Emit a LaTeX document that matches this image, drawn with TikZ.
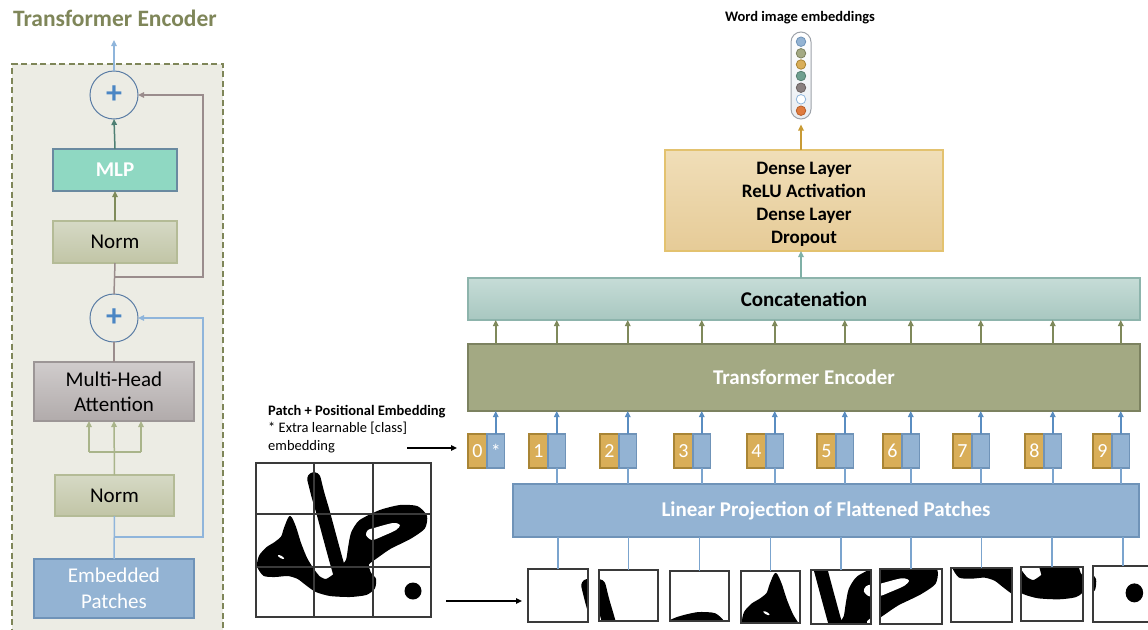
\documentclass[tikz,border=0pt]{standalone}
\usepackage{fontspec}
\setmainfont{Carlito}
\usetikzlibrary{arrows.meta,calc}

\definecolor{olv}{HTML}{7F8659}
\definecolor{panelbg}{HTML}{ECECE4}
\definecolor{circd}{HTML}{5B7DA5}
\definecolor{plusc}{HTML}{4B86C4}
\definecolor{mlpfill}{HTML}{8FD8C2}
\definecolor{mlpdraw}{HTML}{6A8AA0}
\definecolor{normtop}{HTML}{D6D9C5}
\definecolor{normbot}{HTML}{C1C5A6}
\definecolor{normdraw}{HTML}{B4BB96}
\definecolor{mhatop}{HTML}{D0CCCC}
\definecolor{mhabot}{HTML}{B1ABAB}
\definecolor{mhadraw}{HTML}{9C9696}
\definecolor{embfill}{HTML}{93B3D3}
\definecolor{embdraw}{HTML}{6F93B8}
\definecolor{mauve}{HTML}{9A8C8C}
\definecolor{lblue}{HTML}{8FB5DB}
\definecolor{lolive}{HTML}{A9B48A}
\definecolor{olvarr}{HTML}{7F8B5A}
\definecolor{tealarr}{HTML}{4E7F73}
\definecolor{tefill}{HTML}{A3A983}
\definecolor{tedraw}{HTML}{7C8260}
\definecolor{cctop}{HTML}{C6DCD7}
\definecolor{ccbot}{HTML}{A8C7C0}
\definecolor{ccdraw}{HTML}{8DB4AC}
\definecolor{dntop}{HTML}{F0DEB8}
\definecolor{dnbot}{HTML}{E6CB97}
\definecolor{dndraw}{HTML}{E3C26F}
\definecolor{goldfill}{HTML}{D9AE58}
\definecolor{golddraw}{HTML}{A98535}
\definecolor{arrblue}{HTML}{5A8DC1}
\definecolor{ccarr}{HTML}{7F895B}
\definecolor{dnarr}{HTML}{7FB0A6}
\definecolor{caparr}{HTML}{C89B35}
\definecolor{capfill}{HTML}{E9EDF2}
\definecolor{capdraw}{HTML}{9EA3AA}
\definecolor{gridc}{HTML}{3A3A3A}

\tikzset{
  arr/.style={-{Triangle[length=6pt,width=5.5pt]}},
  conn/.style={line width=1.5pt},
  box/.style={draw, rectangle, inner sep=0pt, outer sep=0pt, align=center, line width=1.2pt},
  big/.style={font=\fontsize{21}{25}\selectfont},
  bigb/.style={font=\fontsize{21}{25}\selectfont\bfseries},
  normbox/.style={box, top color=normtop, bottom color=normbot, draw=normdraw, big},
  pluscirc/.style={draw=circd, circle, minimum size=48pt, inner sep=0pt, outer sep=0pt, line width=1pt,
    fill=panelbg, text=plusc, font=\fontsize{32}{32}\selectfont\bfseries},
  goldtok/.style={box, fill=goldfill, draw=golddraw, minimum width=19pt, minimum height=34pt, text=white,
    font=\fontsize{20}{20}\selectfont},
  bluetok/.style={box, fill=embfill, draw=embdraw, minimum width=17.5pt, minimum height=34pt, text=white,
    font=\fontsize{20}{20}\selectfont},
  patchbox/.style={draw=gridc, rectangle, inner sep=0pt, outer sep=0pt, line width=1.5pt},
  dot/.style={circle, inner sep=0pt, minimum size=9.5pt, line width=0.8pt}
}

\newcommand\hwriting{%
\filldraw[black, line width=2pt, line join=round] plot[smooth cycle, tension=0.4] coordinates {(290,517) (295,527) (300,543) (306,558) (312,568) (319,577) (326,580) (334,575) (341,568) (347,560) (349,548) (352,533) (360,521) (380,511) (400,506) (417,507) (426,516) (424,528) (410,538) (390,548) (377,557) (368,564) (370,573) (375,579) (374,588) (366,594) (350,596) (330,595) (316,591) (306,584) (298,578) (288,575) (275,576) (264,575) (258,566) (260,556) (267,548) (275,543) (282,537) (285,528)};
\draw[black, line width=13.5pt, line cap=round] plot[smooth, tension=0.4] coordinates {(314,479) (318,495) (323,512) (330,538) (336,560) (340,574)};
\fill[white] plot[smooth cycle, tension=0.5] coordinates {(366,535) (368,530) (374,528) (393,523) (400,525) (396,530) (383,536) (372,540)};
\fill[white, rotate around={-30:(281,557)}] (281,557) ellipse (3.5 and 1.2);
\fill[black] (413,591) circle (8.5);}

\newcommand\mkpatch[9]{%
\begin{scope}
\clip (#2,#3) rectangle ++(#4,#5);
\begin{scope}[shift={(#2,#3)},xscale=#4/#8,yscale=#5/#9,shift={(-#6,-#7)}]
\hwriting
\end{scope}
\end{scope}
\node[patchbox, minimum width=#4, minimum height=#5, anchor=north west] (#1) at (#2,#3) {};}

\begin{document}
\begin{tikzpicture}[x=1pt,y=-1pt]
\useasboundingbox (0,0) rectangle (1148,629);
\clip (0,0) rectangle (1148,629);
\fill[white] (0,0) rectangle (1148,629);

% ---------------- left panel ----------------
\node[font=\fontsize{23.5}{28}\selectfont\bfseries, text=olv] (ttl) at (115,18) {Transformer Encoder};
\node[draw=olv, fill=panelbg, dash pattern=on 6pt off 3.5pt, line width=2pt, minimum width=211pt,
  minimum height=600pt, anchor=north west, inner sep=0pt] (panel) at (11,63) {};

\node[pluscirc] (c1) at (114,95) {+};
\node[box, fill=mlpfill, draw=mlpdraw, minimum width=124pt, minimum height=42pt, text=white, bigb] (mlp) at (115,170) {MLP};
\node[normbox, minimum width=124pt, minimum height=42pt] (n1) at (115,242) {Norm};
\node[pluscirc] (c2) at (114,318) {+};
\node[box, top color=mhatop, bottom color=mhabot, draw=mhadraw, minimum width=160pt, minimum height=59pt, big] (mha) at (114,391.5) {Multi-Head\\Attention};
\node[normbox, minimum width=119pt, minimum height=41pt] (n2) at (114.5,495.5) {Norm};
\node[box, fill=embfill, draw=embdraw, minimum width=160pt, minimum height=59pt, text=white, font=\fontsize{21}{26}\selectfont] (emb) at (114,588.5) {Embedded\\Patches};

\coordinate (outtop) at (114,40);
\draw[conn, arr, lblue] (c1.north) -- (outtop);
\draw[conn, arr, tealarr] (mlp.north) -- (c1.south);
\draw[conn, arr, olvarr] (n1.north) -- (mlp.south);
\draw[conn, mauve] (c2.north) -- (n1.south);
\coordinate (r1) at (114,277);
\coordinate (r1b) at (203,277);
\draw[conn, arr, mauve] (r1) -- (r1b) |- (c1.east);
\draw[conn, mauve] (mha.north) -- (c2.south);

\coordinate (spl) at (89,452);
\coordinate (spr) at (141,452);
\draw[conn, lolive] (spl) -- (spr);
\draw[conn, arr, lolive] (n2.north) -- (mha.south);
\draw[conn, arr, lolive] (spl) -- (spl |- mha.south);
\draw[conn, arr, lolive] (spr) -- (spr |- mha.south);

\draw[conn, lblue] (emb.north) -- (n2.south);
\coordinate (r2) at (114,537);
\coordinate (r2b) at (203,537);
\draw[conn, arr, lblue] (r2) -- (r2b) |- (c2.east);

% ---------------- right part ----------------
\node[font=\fontsize{14.5}{17}\selectfont\bfseries] (wie) at (800,18) {Word image embeddings};
\node[draw=capdraw, top color=white, bottom color=capfill, rounded corners=10pt, minimum width=20pt, minimum height=87pt, inner sep=0pt, line width=1pt] (cap) at (801,75.5) {};
\node[dot, fill=embfill, draw=embdraw] (d1) at (801,41.7) {};
\node[dot, fill=tefill, draw=tedraw] (d2) at (801,53.3) {};
\node[dot, fill=goldfill, draw=golddraw] (d3) at (801,64.5) {};
\node[dot, fill={rgb,255:red,110;green,159;blue,143}, draw={rgb,255:red,85;green,127;blue,113}] (d4) at (801,76) {};
\node[dot, fill={rgb,255:red,138;green,128;blue,128}, draw={rgb,255:red,107;green,98;blue,98}] (d5) at (801,87.7) {};
\node[dot, fill=white, draw=lblue] (d6) at (801,99.3) {};
\node[dot, fill={rgb,255:red,224;green,123;blue,62}, draw={rgb,255:red,184;green,95;blue,42}] (d7) at (801,110.7) {};

\node[box, top color=dntop, bottom color=dnbot, draw=dndraw, minimum width=278pt, minimum height=101pt] (dense) at (804,200.5) {};
\node[align=center, inner sep=0pt, font=\fontsize{19}{23}\selectfont\bfseries] (densetxt) at ($(dense.center)+(0,3.5)$) {Dense Layer\\ReLU Activation\\Dense Layer\\Dropout};
\node[box, top color=cctop, bottom color=ccbot, draw=ccdraw, minimum width=672pt, minimum height=42pt, bigb] (concat) at (804,299) {Concatenation};
\node[box, fill=tefill, draw=tedraw, minimum width=672pt, minimum height=67pt, text=white, bigb] (te) at (804,377.5) {Transformer Encoder};
\node[box, fill=embfill, draw=embdraw, minimum width=626pt, minimum height=53pt, text=white, bigb] (lin) at (826,510.5) {Linear Projection of Flattened Patches};

\draw[conn, arr, caparr, shorten >=5pt] (dense.north -| cap.south) -- (cap.south);
\draw[conn, arr, dnarr] (concat.north -| cap.south) -- (dense.south -| cap.south);

\foreach \i/\gx/\s in {0/468/*,1/529/{},2/600/{},3/674/{},4/747/{},5/817/{},6/883/{},7/953/{},8/1025/{},9/1093/{}} {
  \node[goldtok, anchor=north west] (g\i) at (\gx,434) {\i};
  \node[bluetok, anchor=north west] (b\i) at (g\i.north east) {\s};
}
\foreach \i in {0,...,9} {
  \draw[conn, arr, arrblue] (b\i.north) -- (b\i.north |- te.south);
  \draw[conn, arr, ccarr] (b\i.north |- te.north) -- (b\i.north |- concat.south);
}
\foreach \i in {1,...,9} {
  \draw[conn, arrblue!80] (b\i.south |- lin.north) -- (b\i.south);
}

% big handwriting image with grid
\hwriting
\node[patchbox, minimum width=175pt, minimum height=154pt, anchor=north west] (grid) at (256,463) {};
\draw[gridc, line width=1.5pt] (314,463) -- (314,617) (373,463) -- (373,617) (256,514) -- (431,514) (256,567) -- (431,567);

% patches
\mkpatch{p1}{528}{569}{60}{53}{256}{463}{58}{51}
\mkpatch{p2}{599}{570}{59}{51}{314}{463}{59}{51}
\mkpatch{p3}{670}{571}{59}{50}{373}{463}{58}{51}
\mkpatch{p4}{741}{571}{59}{52}{256}{514}{58}{53}
\mkpatch{p5}{811}{570}{60}{54}{314}{514}{59}{53}
\mkpatch{p6}{880}{569}{62}{55}{373}{514}{58}{53}
\mkpatch{p7}{951}{568}{61}{54}{256}{567}{58}{50}
\mkpatch{p8}{1021}{567}{62}{54}{314}{567}{59}{50}
\mkpatch{p9}{1093}{566}{60}{56}{373}{567}{58}{50}

\foreach \i in {1,...,9} {
  \draw[conn, arrblue!80] (p\i.north |- lin.south) -- (p\i.north);
}

\coordinate (ga) at (446,601);
\draw[conn, arr, black, shorten >=6pt] (ga) -- (ga -| p1.west);

\node[anchor=north west, align=left, inner sep=0pt, font=\fontsize{14.5}{17.5}\selectfont] (lbl) at (268,405) {\textbf{Patch + Positional Embedding}\\* Extra learnable [class]\\embedding};
\coordinate (ea) at (407,448);
\draw[conn, arr, black, shorten >=11pt] (ea) -- (ea -| g0.west);
\end{tikzpicture}
\end{document}
